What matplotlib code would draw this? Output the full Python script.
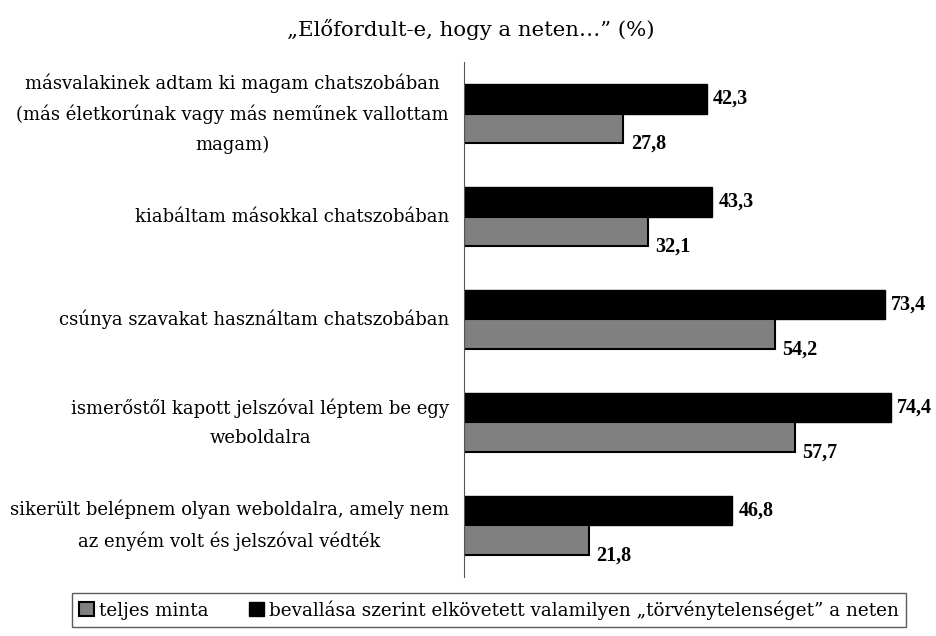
import matplotlib
matplotlib.use('AGG')
import numpy as np
import matplotlib.pyplot as plt
from matplotlib.patches import Patch

plt.rcParams['font.family'] = ['DejaVu Serif']

title = "\u201eElőfordult-e, hogy a neten\u2026\u201d (%)"
categories = ["másvalakinek adtam ki magam chatszobában\n(más életkorúnak vagy más neműnek vallottam\nmagam)",
              "kiabáltam másokkal chatszobában",
              "csúnya szavakat használtam chatszobában",
              "ismerőstől kapott jelszóval léptem be egy\nweboldalra",
              "sikerült belépnem olyan weboldalra, amely nem\naz enyém volt és jelszóval védték"]
teljes = [27.8, 32.1, 54.2, 57.7, 21.8]
torveny = [42.3, 43.3, 73.4, 74.4, 46.8]
series_names = ["teljes minta",
                "bevallása szerint elkövetett valamilyen \u201etörvénytelenséget\u201d a neten"]

fs = 13
h = 0.29
y = np.arange(len(categories))

fig = plt.figure(figsize=(9.36, 6.36), dpi=100)
ax = fig.add_axes([0.4957, 0.0928, 0.4903, 0.8097])

ax.barh(y - h/2, torveny, height=h, color='black', edgecolor='black', linewidth=1)
ax.barh(y + h/2, teljes, height=h, color='#808080', edgecolor='black', linewidth=1.5)

vfont = dict(family=['Liberation Serif', 'DejaVu Serif'], fontsize=14.5, fontweight='bold')
for i in range(len(y)):
    ax.text(torveny[i] + 1.1, y[i] - h/2, "{:.1f}".format(torveny[i]).replace('.', ','),
            ha='left', va='center', **vfont)
    ax.text(teljes[i] + 1.3, y[i] + h, "{:.1f}".format(teljes[i]).replace('.', ','),
            ha='left', va='center', **vfont)
    ax.text(-2.6, y[i], categories[i], ha='right', va='center',
            multialignment='center', fontsize=fs, linespacing=1.78)

ax.set_xlim(0, 80)
ax.set_ylim(4.5, -0.5)
ax.set_xticks([])
ax.set_yticks([])
for s in ['top', 'right', 'bottom']:
    ax.spines[s].set_visible(False)
ax.spines['left'].set_color('#555555')

fig.text(0.503, 0.953, title, ha='center', va='center', fontsize=15.3)

handles = [Patch(facecolor='#808080', edgecolor='black', linewidth=1.5),
           Patch(facecolor='black', edgecolor='black')]
leg = fig.legend(handles, series_names, loc='center', bbox_to_anchor=(0.5225, 0.041),
                 ncol=2, fontsize=13.2, frameon=True, fancybox=False,
                 handlelength=0.8, handleheight=0.8, handletextpad=0.3,
                 columnspacing=2.2, borderpad=0.4)
leg.get_frame().set_edgecolor('#333333')
leg.get_frame().set_linewidth(1)

fig.savefig("out.png", dpi=100)
